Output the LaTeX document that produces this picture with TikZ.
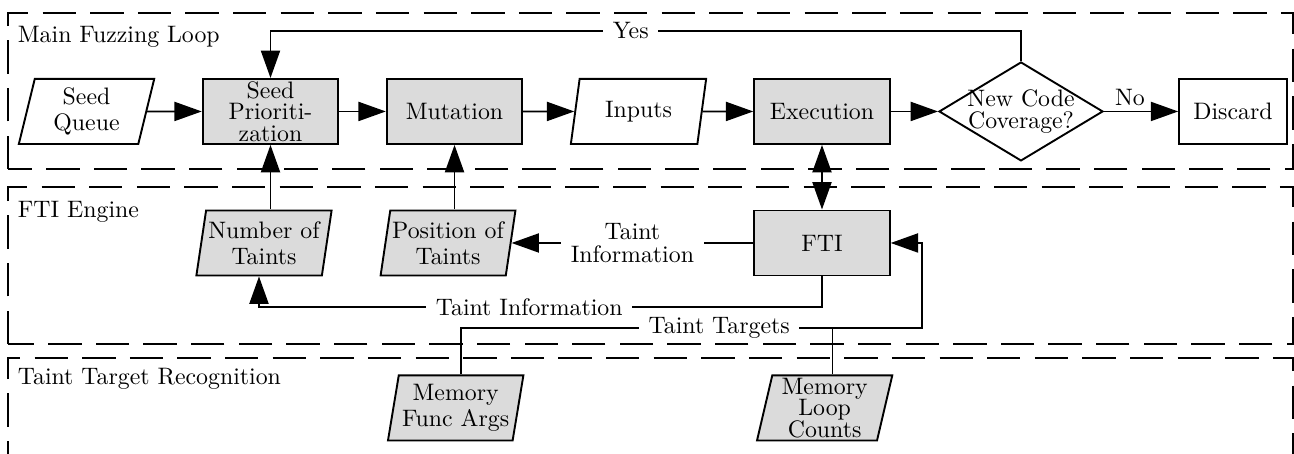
\documentclass[tikz,border=0pt]{standalone}
\usepackage{tikz}
\usetikzlibrary{shapes.geometric}
\usetikzlibrary{arrows.meta}
\usetikzlibrary{calc}

\tikzset{
    procbox/.style = {rectangle, draw = black, thick, fill = black!14, minimum width = 2cm, minimum height = 0.96cm, inner sep = 1pt, align = center},
    databox/.style = {trapezium, trapezium left angle = 79, trapezium right angle = 101, trapezium stretches = true, draw = black, thick, fill = white, minimum width = 2cm, minimum height = 0.96cm, inner xsep = 0pt, inner ysep = 1pt, align = center},
    graydata/.style = {databox, fill = black!14},
    decision/.style = {diamond, draw = black, thick, fill = white, aspect = 2, minimum width = 2.42cm, minimum height = 1.46cm, inner xsep = -10pt, inner ysep = 0pt, align = center},
    region/.style = {draw = black, thick, dash pattern = on 14pt off 6pt},
    regionname/.style = {anchor = base west, inner sep = 0pt},
    linelabel/.style = {fill = white, inner xsep = 4pt, inner ysep = 1pt, align = center}
}

\begin{document}
\begin{tikzpicture}[>={Triangle[length = 11.5pt, width = 8pt]}, thick]
    \useasboundingbox (0,0) rectangle (19.097,6.700);

    % Draw the three regions:
    \draw [region] (0.118,4.206) rectangle (19.08,6.508);
    \draw [region] (0.118,1.623) rectangle (19.08,3.940);
    \draw [region] (0.118,-0.3) rectangle (19.08,1.417);
    \node [regionname] (loopname) at (0.25,6.08) {Main Fuzzing Loop};
    \node [regionname] (ftiname) at (0.25,3.49) {FTI Engine};
    \node [regionname] (ttrname) at (0.25,1.03) {Taint Target Recognition};

    % Draw the fuzzing loop:
    \node [databox] (queue) at (1.277,5.055) {Seed\\[-1pt]Queue};
    \node [procbox] (prio) at (3.992,5.055) {Seed\\[-3pt]Prioriti-\\[-3pt]zation};
    \node [procbox] (mut) at (6.708,5.055) {Mutation};
    \node [databox] (inputs) at (9.423,5.055) {Inputs};
    \node [procbox] (exec) at (12.131,5.055) {Execution};
    \node [decision] (cov) at (15.068,5.055) {New Code\\[-3pt]Coverage?};
    \node [procbox, fill = white, minimum width = 1.59cm] (discard) at (18.197,5.055) {Discard};

    % Draw the FTI engine:
    \node [graydata] (number) at (3.896,3.114) {Number of\\[-1pt]Taints};
    \node [graydata] (position) at (6.612,3.114) {Position of\\[-1pt]Taints};
    \node [procbox] (fti) at (12.131,3.114) {FTI};

    % Draw the taint targets:
    \node [graydata] (funcargs) at (6.725,0.679) {Memory\\[-1pt]Func Args};
    \node [graydata] (loopcounts) at (12.170,0.679) {Memory\\[-3pt]Loop\\[-3pt]Counts};

    \coordinate (numberbottom) at ($(number.bottom left corner)!0.5!(number.bottom right corner)$);
    \coordinate (argstop) at ($(funcargs.top left corner)!0.5!(funcargs.top right corner)$);
    \coordinate (loopstop) at ($(loopcounts.top left corner)!0.5!(loopcounts.top right corner)$);
    \coordinate (yesline) at (0,6.243);
    \coordinate (infoline) at (0,2.169);
    \coordinate (targetline) at (0,1.860);
    \coordinate (targetturn) at (13.607,1.860);

    % Draw the connectors:
    \draw [->] (queue) -- (prio);
    \draw [->] (prio) -- (mut);
    \draw [->] (mut) -- (inputs);
    \draw [->] (inputs) -- (exec);
    \draw [->] (exec) -- (cov);
    \draw [->] (cov) -- node [above, pos = 0.35, inner sep = 2pt] (no) {No} (discard);
    \draw [->] (cov.north) -- (cov.north |- yesline)
        -- node [linelabel, pos = 0.52] (yes) {Yes} (prio.north |- yesline) -- (prio.north);
    \draw [->] (prio.south |- number.north) -- (prio.south);
    \draw [->] (mut.south |- position.north) -- (mut.south);
    \draw [<->] (exec) -- (fti);
    \draw [->] (fti) -- node [linelabel] (info) {Taint\\[-2pt]Information} (position);
    \draw [->] (fti.south) -- (fti.south |- infoline)
        -- node [linelabel, pos = 0.52] (infolow) {Taint Information} (numberbottom |- infoline) -- (numberbottom);
    \draw [->] (argstop) -- (argstop |- targetline)
        -- node [linelabel, pos = 0.56] (targets) {Taint Targets} (targetturn) -- (targetturn |- fti) -- (fti.east);
    \draw (loopstop) -- (loopstop |- targetline);
\end{tikzpicture}
\end{document}
